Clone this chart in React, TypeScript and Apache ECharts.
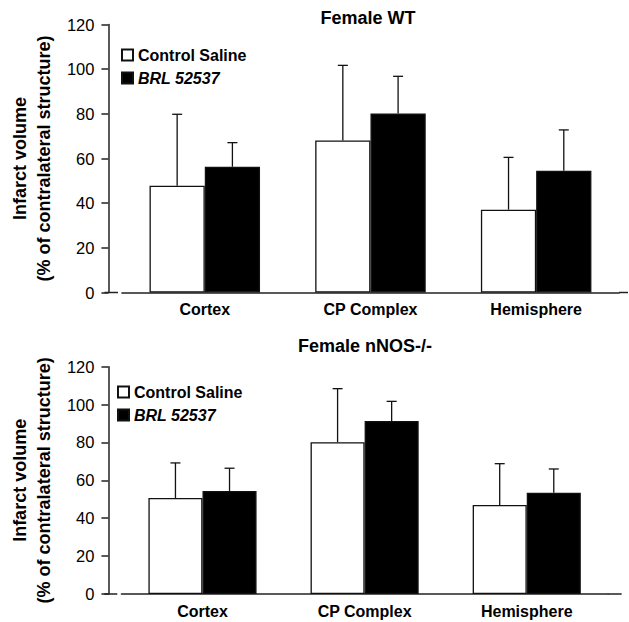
import React, { useEffect, useRef } from 'react';
import * as echarts from 'echarts';

const categories = ['Cortex', 'CP Complex', 'Hemisphere'];
const seriesNames = ['Control Saline', 'BRL 52537'];
const panelTitles = ['Female WT', 'Female nNOS-/-'];
const yAxisName = 'Infarct volume\n(% of contralateral structure)';
const yMin = 0;
const yMax = 120;
const yInterval = 20;

// Female WT
const wtControl = [47.8, 68.1, 37.1];
const wtControlSD = [32.0, 33.6, 23.4];
const wtBRL = [56.3, 80.1, 54.5];
const wtBRLSD = [10.8, 16.7, 18.3];

// Female nNOS-/-
const knControl = [50.7, 80.1, 47.0];
const knControlSD = [18.5, 28.3, 21.8];
const knBRL = [54.4, 91.3, 53.5];
const knBRLSD = [12.0, 10.4, 12.5];

const FONT = '"Liberation Sans", Arial, Helvetica, sans-serif';
const GAP = 0.333;
const AXIS_COLOR = '#222';
const BAR_BORDER = '#111';

const panels = [
  {
    title: panelTitles[0],
    titleX: 368, titleY: 9,
    grid: { left: 118, top: 24.5, width: 501, height: 268 },
    axisX: 104.5, axisEnd: 628,
    legendX: 121, legendY: 47,
    control: wtControl, controlSD: wtControlSD, brl: wtBRL, brlSD: wtBRLSD,
  },
  {
    title: panelTitles[1],
    titleX: 365, titleY: 337,
    grid: { left: 117.3, top: 366.7, width: 490.5, height: 227.3 },
    axisX: 104.3, axisEnd: 621.7,
    legendX: 117, legendY: 384,
    control: knControl, controlSD: knControlSD, brl: knBRL, brlSD: knBRLSD,
  },
];

const makeErr = (sign: number) => (params: any, api: any) => {
  const idx = api.value(0);
  const mean = api.value(1);
  const upper = api.value(2);
  const base = api.coord([idx, mean]);
  const top = api.coord([idx, upper]);
  const band = api.size([1, 0])[0];
  const barW = (band * (1 - GAP)) / 2;
  const x = base[0] + (sign * barW) / 2;
  const style = { stroke: BAR_BORDER, lineWidth: 1.3 };
  return {
    type: 'group',
    children: [
      { type: 'line', shape: { x1: x, y1: base[1], x2: x, y2: top[1] }, style },
      { type: 'line', shape: { x1: x - 5, y1: top[1], x2: x + 5, y2: top[1] }, style },
    ],
  };
};

export default function App() {
  const ref = useRef<HTMLDivElement>(null);

  useEffect(() => {
    document.body.style.margin = '0';
    if (!ref.current) return;
    const chart = echarts.init(ref.current, undefined, { renderer: 'svg' });

    const grids: any[] = [];
    const xAxes: any[] = [];
    const yAxes: any[] = [];
    const titles: any[] = [];
    const legends: any[] = [];
    const series: any[] = [];
    const graphics: any[] = [];

    panels.forEach((p, i) => {
      const g = p.grid;
      grids.push({ left: g.left, top: g.top, width: g.width, height: g.height, containLabel: false });
      xAxes.push({
        type: 'category',
        gridIndex: i,
        data: categories,
        axisLine: { show: true, lineStyle: { color: AXIS_COLOR, width: 1.5 } },
        axisTick: { show: false },
        axisLabel: { color: '#000', fontSize: 16, fontWeight: 'bold', fontFamily: FONT, margin: 9 },
      });
      yAxes.push({
        type: 'value',
        gridIndex: i,
        min: yMin,
        max: yMax,
        interval: yInterval,
        offset: g.left - p.axisX,
        splitLine: { show: false },
        axisLine: { show: true, lineStyle: { color: AXIS_COLOR, width: 1.5 } },
        axisTick: { show: true, length: 7, lineStyle: { color: AXIS_COLOR, width: 1.5 } },
        axisLabel: { color: '#000', fontSize: 16.5, fontFamily: FONT, margin: 14 },
        name: yAxisName,
        nameLocation: 'middle',
        nameRotate: 90,
        nameGap: 52,
        nameTextStyle: { color: '#000', fontSize: 18, fontWeight: 'bold', fontFamily: FONT, lineHeight: 24 },
      });
      titles.push({
        text: p.title,
        left: p.titleX,
        top: p.titleY,
        textAlign: 'center',
        padding: 0,
        textStyle: { color: '#000', fontSize: 18, fontWeight: 'bold', fontFamily: FONT },
      });
      legends.push({
        data: seriesNames,
        orient: 'vertical',
        left: p.legendX,
        top: p.legendY,
        padding: 0,
        itemWidth: 11,
        itemHeight: 11,
        itemGap: 7,
        icon: 'rect',
        selectedMode: false,
        formatter: (name: string) => (name === seriesNames[1] ? `{i|${name}}` : name),
        textStyle: {
          color: '#000', fontSize: 16, fontWeight: 'bold', fontFamily: FONT,
          rich: { i: { fontStyle: 'italic', fontWeight: 'bold', fontSize: 16, fontFamily: FONT, color: '#000' } },
        },
      });
      series.push({
        type: 'bar',
        name: seriesNames[0],
        xAxisIndex: i,
        yAxisIndex: i,
        data: p.control,
        barGap: '0%',
        barCategoryGap: `${GAP * 100}%`,
        itemStyle: { color: '#ffffff', borderColor: BAR_BORDER, borderWidth: 1.3 },
        emphasis: { disabled: true },
      });
      series.push({
        type: 'bar',
        name: seriesNames[1],
        xAxisIndex: i,
        yAxisIndex: i,
        data: p.brl,
        barGap: '0%',
        barCategoryGap: `${GAP * 100}%`,
        itemStyle: { color: '#000000', borderColor: BAR_BORDER, borderWidth: 1.3 },
        emphasis: { disabled: true },
      });
      series.push({
        type: 'custom',
        xAxisIndex: i,
        yAxisIndex: i,
        renderItem: makeErr(-1),
        encode: { x: 0, y: [1, 2] },
        data: p.control.map((v, k) => [k, v, v + p.controlSD[k]]),
        z: 5,
      });
      series.push({
        type: 'custom',
        xAxisIndex: i,
        yAxisIndex: i,
        renderItem: makeErr(1),
        encode: { x: 0, y: [1, 2] },
        data: p.brl.map((v, k) => [k, v, v + p.brlSD[k]]),
        z: 5,
      });
      const yb = g.top + g.height;
      graphics.push({
        type: 'line',
        shape: { x1: p.axisX, y1: yb, x2: g.left, y2: yb },
        style: { stroke: AXIS_COLOR, lineWidth: 1.5 },
        silent: true,
      });
      graphics.push({
        type: 'line',
        shape: { x1: g.left + g.width, y1: yb, x2: p.axisEnd, y2: yb },
        style: { stroke: AXIS_COLOR, lineWidth: 1.5 },
        silent: true,
      });
    });

    chart.setOption({
      animation: false,
      backgroundColor: '#ffffff',
      title: titles,
      legend: legends,
      grid: grids,
      xAxis: xAxes,
      yAxis: yAxes,
      series,
      graphic: graphics,
    });

    return () => chart.dispose();
  }, []);

  return (
    <div
      ref={ref}
      style={{ position: 'fixed', left: 0, top: 0, width: 629, height: 622, background: '#fff' }}
    />
  );
}
